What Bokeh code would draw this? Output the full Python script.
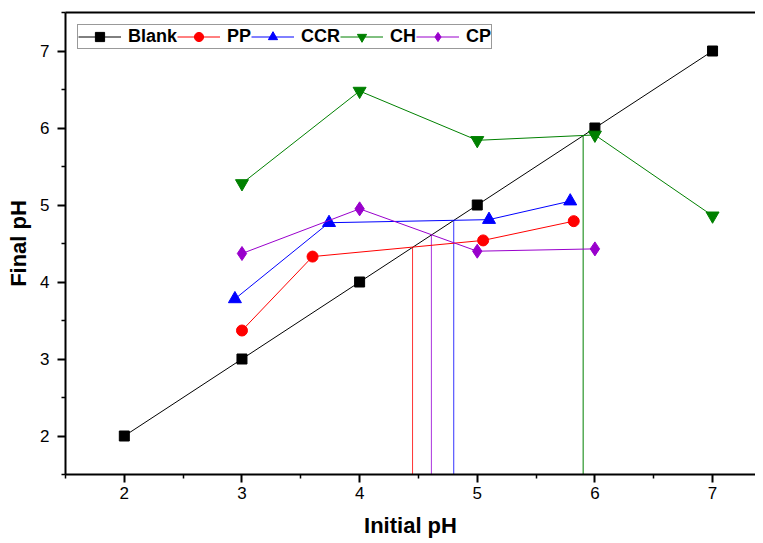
from bokeh.plotting import figure
from bokeh.models import LinearAxis, FixedTicker, Range1d, Legend, ColumnDataSource
from bokeh.embed import file_html
from bokeh.resources import INLINE

# Data
blank_x = [2, 3, 4, 5, 6, 7]
blank_y = [2, 3, 4, 5, 6, 7]
pp_x = [3.0, 3.6, 5.05, 5.82]
pp_y = [3.37, 4.33, 4.54, 4.79]
ccr_x = [2.94, 3.74, 5.10, 5.79]
ccr_y = [3.78, 4.77, 4.81, 5.05]
ch_x = [3.0, 4.0, 5.0, 6.0, 7.0]
ch_y = [5.28, 6.48, 5.84, 5.91, 4.86]
cp_x = [3.0, 4.0, 5.0, 6.0]
cp_y = [4.37, 4.95, 4.40, 4.43]
pzc_vals = [4.45, 4.61, 4.80, 5.90]
pzc_colors = ["#FF3333", "#AA33DD", "#3333FF", "#008000"]
x_ticks = [2, 3, 4, 5, 6, 7]
y_ticks = [2, 3, 4, 5, 6, 7]

FONT = "Liberation Sans"
y_start, y_end = 1.5, 7.5
x_start, x_end = 1.5, 7.365

p = figure(width=755, height=543, output_backend="svg", toolbar_location=None,
           x_range=Range1d(x_start, x_end), y_range=Range1d(y_start, y_end),
           min_border_left=65, min_border_right=0, min_border_top=12, min_border_bottom=69)
p.xgrid.visible = False
p.ygrid.visible = False
p.outline_line_color = None

# PZC drop lines
pzc_src = ColumnDataSource(dict(x=pzc_vals, y0=[y_start] * len(pzc_vals),
                                y1=pzc_vals, color=pzc_colors))
p.segment(x0="x", y0="y0", x1="x", y1="y1", line_color="color", line_width=1,
          source=pzc_src)

series = [
    ("Blank", blank_x, blank_y, "#000000", "square", 10),
    ("PP", pp_x, pp_y, "#FF0000", "circle", 11),
    ("CCR", ccr_x, ccr_y, "#0000FF", "triangle", 13),
    ("CH", ch_x, ch_y, "#008000", "inverted_triangle", 13),
    ("CP", cp_x, cp_y, "#9900CC", "diamond", 14),
]
items = []
for name, xs, ys, col, mk, sz in series:
    l = p.line(xs, ys, line_color=col, line_width=1)
    s = p.scatter(xs, ys, marker=mk, size=sz, fill_color=col, line_color=col)
    items.append((name, [l, s]))

legend = Legend(items=items, orientation="horizontal", location="top_left",
                margin=12, padding=0, spacing=0, label_standoff=7,
                glyph_width=43, glyph_height=23,
                label_text_font=FONT, label_text_font_style="bold",
                label_text_font_size="18px", label_text_color="#000000",
                border_line_color="#333333", border_line_width=1,
                background_fill_alpha=1.0)
p.add_layout(legend, "center")

for ax in (p.xaxis[0], p.yaxis[0]):
    ax.axis_line_width = 2
    ax.major_tick_line_width = 2
    ax.minor_tick_line_width = 1.5
    ax.major_tick_out = 8
    ax.major_tick_in = 0
    ax.minor_tick_out = 4
    ax.minor_tick_in = 0
    ax.major_label_text_font = FONT
    ax.major_label_text_font_size = "17px"
    ax.major_label_text_color = "#000000"
    ax.axis_label_text_font = FONT
    ax.axis_label_text_font_style = "bold"
    ax.axis_label_text_font_size = "22px"
    ax.axis_label_text_color = "#000000"

p.xaxis[0].ticker = FixedTicker(ticks=x_ticks, minor_ticks=[1.5, 2.5, 3.5, 4.5, 5.5, 6.5])
p.yaxis[0].ticker = FixedTicker(ticks=y_ticks, minor_ticks=[1.5, 2.5, 3.5, 4.5, 5.5, 6.5, 7.5])
p.xaxis[0].axis_label = "Initial pH"
p.yaxis[0].axis_label = "Final pH"
p.xaxis[0].major_label_standoff = 4
p.xaxis[0].axis_label_standoff = 11
p.yaxis[0].major_label_standoff = 8
p.yaxis[0].axis_label_standoff = 6

top = LinearAxis(ticker=FixedTicker(ticks=[]), axis_line_width=2,
                 major_tick_out=0, minor_tick_out=0, major_tick_in=0, minor_tick_in=0,
                 major_label_text_font_size="0px")
p.add_layout(top, "above")

open("out.html", "w").write(file_html(p, INLINE))
